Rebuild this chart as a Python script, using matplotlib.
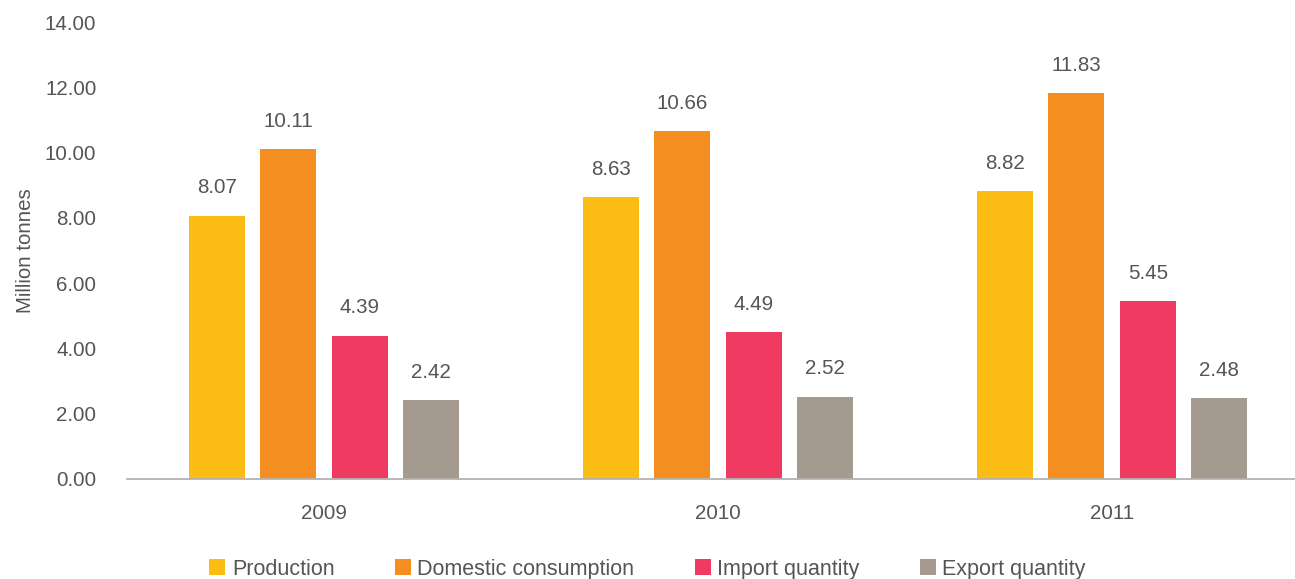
import numpy as np
import matplotlib.pyplot as plt
from matplotlib.patches import Patch

plt.rcParams['font.family'] = ['Liberation Sans', 'DejaVu Sans']

# dados
years = ['2009', '2010', '2011']
series = ['Production', 'Domestic consumption', 'Import quantity', 'Export quantity']
production = [8.07, 8.63, 8.82]
domestic = [10.11, 10.66, 11.83]
imports = [4.39, 4.49, 5.45]
exports = [2.42, 2.52, 2.48]
colors = ['#FBBC14', '#F58E20', '#EF3B62', '#A59A8F']

text_color = '#555555'

fig = plt.figure(figsize=(12.95, 5.79), dpi=100)
# eixo vai alem da borda direita, como no original
ax = fig.add_axes([127 / 1295, 1 - 479 / 579, (1309 - 127) / 1295, (479 - 22) / 579])

x = np.arange(len(years))
step = 0.1815
width = 0.142
values = [production, domestic, imports, exports]
for i, (vals, c) in enumerate(zip(values, colors)):
    pos = x + (i - 1.5) * step
    ax.bar(pos, vals, width=width, color=c)
    for p, v in zip(pos, vals):
        ax.annotate(f'{v:.2f}', (p, v), xytext=(0, 20), textcoords='offset points',
                    ha='center', va='center', fontsize=14.8, color=text_color)

ax.set_xlim(-0.5, 2.5)
ax.set_ylim(0, 14)
ax.set_yticks(np.arange(0, 15, 2))
ax.set_yticklabels([f'{t:.2f}' for t in np.arange(0, 15, 2)])
ax.set_xticks(x)
ax.set_xticklabels(years)
ax.tick_params(axis='both', length=0, labelsize=14.8, colors=text_color)
ax.tick_params(axis='x', pad=18)
ax.tick_params(axis='y', pad=22)
for s in ['top', 'right', 'left']:
    ax.spines[s].set_visible(False)
ax.spines['bottom'].set_color('#b3b3b3')
ax.spines['bottom'].set_linewidth(1.3)
ax.set_ylabel('Million tonnes', fontsize=14.8, color=text_color)
ax.yaxis.set_label_coords(-0.078, 0.5)

handles = [Patch(facecolor=c) for c in colors]
leg = fig.legend(handles, series, loc='lower center', bbox_to_anchor=(0.5, -0.035), ncol=4,
                 frameon=False, fontsize=15.5, handlelength=0.75, handleheight=0.75,
                 handletextpad=0.3, columnspacing=2.8)
for t in leg.get_texts():
    t.set_color(text_color)

plt.savefig('out.png', dpi=100)
